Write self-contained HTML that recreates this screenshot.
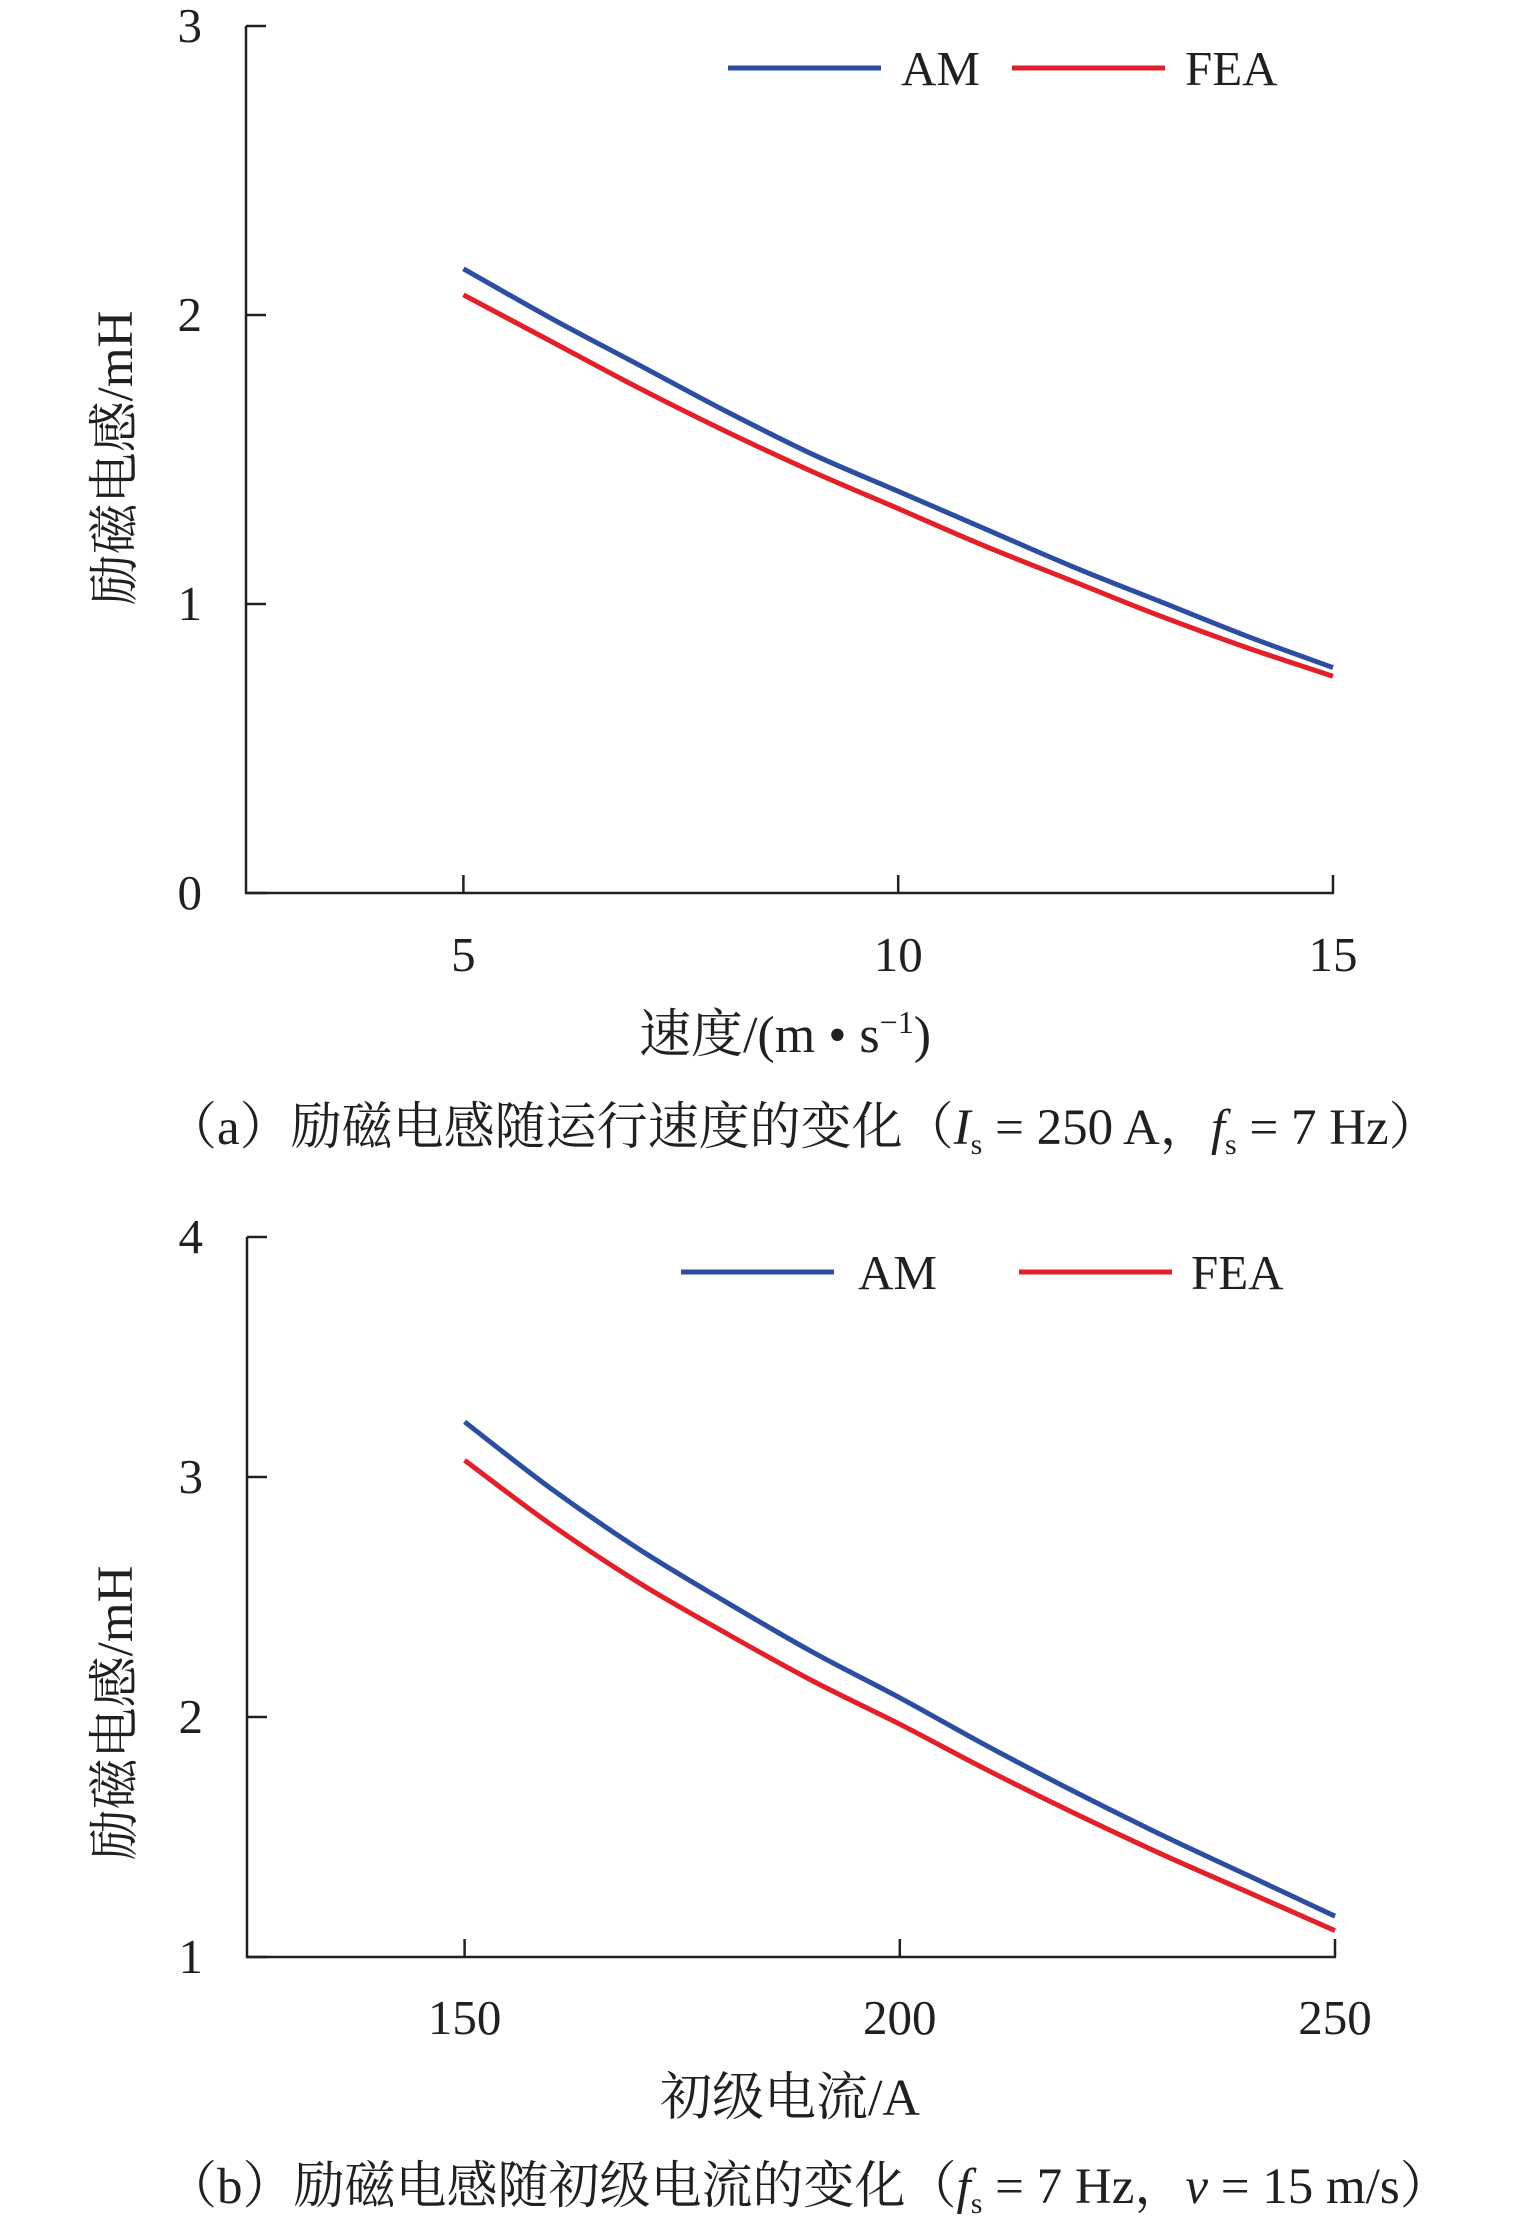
<!DOCTYPE html>
<html><head><meta charset="utf-8"><style>
html,body{margin:0;padding:0;background:#fff;}
svg{display:block;}
text{font-family:"Liberation Serif","Noto Serif CJK SC",serif;fill:#231f20;}
</style></head><body>
<svg id="fig" width="1535" height="2235" viewBox="0 0 1535 2235" xmlns="http://www.w3.org/2000/svg">
<g id="chartA"></g>
<g id="chartB"></g>
</svg>
<script>
const speedCats = [5,6,7,8,9,10,11,12,13,14,15];
const speedAM = [2.16,1.99,1.83,1.67,1.52,1.39,1.26,1.13,1.01,0.89,0.78];
const speedFEA = [2.07,1.91,1.75,1.60,1.46,1.33,1.20,1.08,0.96,0.85,0.75];
const speedXTicks = [5,10,15];
const speedYTicks = [0,1,2,3];

const currentCats = [150,160,170,180,190,200,210,220,230,240,250];
const currentAM = [3.23,2.95,2.70,2.48,2.27,2.08,1.88,1.69,1.51,1.34,1.17];
const currentFEA = [3.07,2.80,2.56,2.35,2.15,1.97,1.78,1.60,1.43,1.27,1.11];
const currentXTicks = [150,200,250];
const currentYTicks = [1,2,3,4];

const NS='http://www.w3.org/2000/svg';
function mk(parent,tag,attrs,txt){const e=document.createElementNS(NS,tag);for(const k in attrs)e.setAttribute(k,attrs[k]);if(txt!==undefined)e.innerHTML=txt;parent.appendChild(e);return e;}
function smooth(pts){
  let d='M'+pts[0][0].toFixed(1)+','+pts[0][1].toFixed(1);
  for(let i=0;i<pts.length-1;i++){
    const p0=pts[Math.max(0,i-1)],p1=pts[i],p2=pts[i+1],p3=pts[Math.min(pts.length-1,i+2)];
    const c1=[p1[0]+(p2[0]-p0[0])/6,p1[1]+(p2[1]-p0[1])/6];
    const c2=[p2[0]-(p3[0]-p1[0])/6,p2[1]-(p3[1]-p1[1])/6];
    d+=` C${c1[0].toFixed(1)},${c1[1].toFixed(1)} ${c2[0].toFixed(1)},${c2[1].toFixed(1)} ${p2[0].toFixed(1)},${p2[1].toFixed(1)}`;
  }
  return d;
}

function drawChart(g,cfg){
  const sx=v=>cfg.left+(v-cfg.xmin)/(cfg.xmax-cfg.xmin)*(cfg.right-cfg.left);
  const sy=v=>cfg.bottom-(v-cfg.ymin)/(cfg.ymax-cfg.ymin)*(cfg.bottom-cfg.top);
  const ax=mk(g,'path',{d:`M${cfg.left},${cfg.top} V${cfg.bottom} H${sx(cfg.xTicks[cfg.xTicks.length-1])+1}`,fill:'none',stroke:'#231f20','stroke-width':2.5});
  
  
  cfg.yTicks.forEach(v=>{
    const t=mk(g,'line',{x1:cfg.left,x2:cfg.left+20,y1:sy(v),y2:sy(v),stroke:'#231f20','stroke-width':2.5});
    
    
    const l=mk(g,'text',{x:cfg.left-44,y:sy(v)+16,'text-anchor':'end','font-size':49},String(v));
    
    
  });
  cfg.xTicks.forEach(v=>{
    const t=mk(g,'line',{x1:sx(v),x2:sx(v),y1:cfg.bottom,y2:cfg.bottom-18,stroke:'#231f20','stroke-width':2.5});
    
    
    const l=mk(g,'text',{x:sx(v),y:cfg.xLabelY,'text-anchor':'middle','font-size':49},String(v));
    
    
  });
  [[cfg.am,'#2b4ea0','am-line'],[cfg.fea,'#e3202a','fea-line']].forEach(([vals,col,name])=>{
    const pts=vals.map((v,i)=>[sx(cfg.cats[i]),sy(v)]);
    const p=mk(g,'path',{d:smooth(pts),fill:'none',stroke:col,'stroke-width':5,'stroke-linejoin':'round'});
    
    
  });
  const L=cfg.legend;
  const l1=mk(g,'line',{x1:L.amX1,x2:L.amX1+153,y1:L.y,y2:L.y,stroke:'#2b4ea0','stroke-width':5});
  
  
  const t1=mk(g,'text',{x:L.amT,y:L.y+17,'font-size':49},'AM');
  
  
  const l2=mk(g,'line',{x1:L.feaX1,x2:L.feaX1+153,y1:L.y,y2:L.y,stroke:'#e3202a','stroke-width':5});
  
  
  const t2=mk(g,'text',{x:L.feaT,y:L.y+17,'font-size':49},'FEA');
  
  
  const yt=mk(g,'text',{x:0,y:0,'text-anchor':'middle','font-size':51,transform:`translate(132,${cfg.yTitleY}) rotate(-90)`},'励磁电感/mH');
  
  
  const xt=mk(g,'text',{x:cfg.xTitleX,y:cfg.xTitleYpos,'text-anchor':'middle','font-size':52},cfg.xTitle);
  
  
  const cp=mk(g,'text',{x:166,y:cfg.capY,'font-size':51},cfg.caption);
  
  
}

drawChart(document.getElementById('chartA'),{
  left:246,right:1333,top:26,bottom:893,xmin:2.5,xmax:15,ymin:0,ymax:3,
  cats:speedCats,am:speedAM,fea:speedFEA,xTicks:speedXTicks,yTicks:speedYTicks,
  xLabelY:971,legend:{y:68,amX1:728,amT:901,feaX1:1012,feaT:1185},
  yTitleY:458,xTitleX:785,xTitleYpos:1052,
  xTitle:'速度/(m • s<tspan font-size="32" dy="-19">−1</tspan><tspan dy="19">)</tspan>',
  capY:1144,
  caption:'（a）励磁电感随运行速度的变化（<tspan font-style="italic">I</tspan><tspan font-size="30" dy="10">s</tspan><tspan dy="-10"> = 250 A，</tspan><tspan font-style="italic">f</tspan><tspan font-size="30" dy="10">s</tspan><tspan dy="-10"> = 7 Hz）</tspan>'
});
drawChart(document.getElementById('chartB'),{
  left:247,right:1335,top:1237,bottom:1957,xmin:125,xmax:250,ymin:1,ymax:4,
  cats:currentCats,am:currentAM,fea:currentFEA,xTicks:currentXTicks,yTicks:currentYTicks,
  xLabelY:2034,legend:{y:1272,amX1:681,amT:858,feaX1:1019,feaT:1191},
  yTitleY:1713,xTitleX:790,xTitleYpos:2115,
  xTitle:'初级电流/A',
  capY:2203,
  caption:'（b）励磁电感随初级电流的变化（<tspan font-style="italic">f</tspan><tspan font-size="30" dy="10">s</tspan><tspan dy="-10"> = 7 Hz，</tspan><tspan font-style="italic">v</tspan><tspan> = 15 m/s）</tspan>'
});
</script>
</body></html>
